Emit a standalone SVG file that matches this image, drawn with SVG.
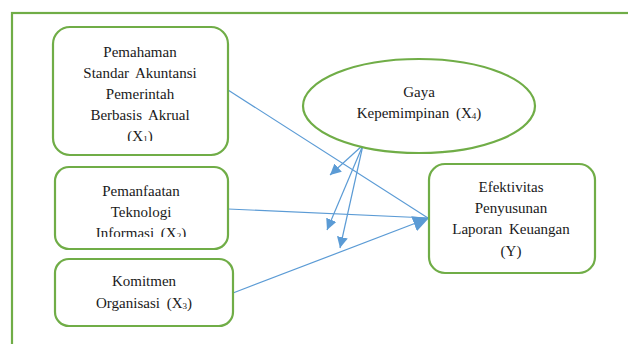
<svg xmlns="http://www.w3.org/2000/svg" width="628" height="344" viewBox="0 0 628 344">
<style>
.n{fill:#fff;stroke:#70AD47;stroke-width:2.2}
.t{font-family:"Liberation Serif","Times New Roman",serif;font-size:15px;fill:#1a1a1a;text-anchor:middle;word-spacing:3px}
.s{font-size:9px}
.c{stroke:#5B9BD5;stroke-width:1.2;fill:none}
</style>
<defs>
<marker id="a" viewBox="0 0 10 10" refX="10" refY="5" markerWidth="11" markerHeight="11" markerUnits="userSpaceOnUse" orient="auto"><path d="M0,0L10,5L0,10z" fill="#5B9BD5"/></marker>
<marker id="b" viewBox="0 0 10 10" refX="10" refY="5" markerWidth="16" markerHeight="16" markerUnits="userSpaceOnUse" orient="auto"><path d="M0,0L10,5L0,10z" fill="#5B9BD5"/></marker>
<clipPath id="k1"><rect x="53" y="27" width="176" height="114"/></clipPath>
<clipPath id="k2"><rect x="55" y="167" width="174" height="70"/></clipPath>
</defs>
<rect x="12" y="13" width="630" height="345" fill="none" stroke="#70AD47" stroke-width="2.2"/>
<g id="connectors">
<line class="c" x1="228" y1="90" x2="428" y2="218"/>
<line class="c" x1="228" y1="209" x2="428" y2="218"/>
<line class="c" x1="233" y1="293" x2="429" y2="218" marker-end="url(#b)"/>
<line class="c" x1="363" y1="145" x2="330" y2="175" marker-end="url(#a)"/>
<line class="c" x1="363" y1="145" x2="327" y2="230" marker-end="url(#a)"/>
<line class="c" x1="363" y1="145" x2="340" y2="248" marker-end="url(#a)"/>
</g>
<g id="x1">
<rect class="n" x="53" y="27" width="175" height="128" rx="17"/>
<g clip-path="url(#k1)">
<text class="t" x="140" y="57">Pemahaman</text>
<text class="t" x="140" y="78">Standar Akuntansi</text>
<text class="t" x="140" y="99">Pemerintah</text>
<text class="t" x="140" y="120">Berbasis Akrual</text>
<text class="t" x="140" y="141">(X<tspan class="s" dy="1">1</tspan><tspan dy="-1">)</tspan></text>
</g>
</g>
<g id="x2">
<rect class="n" x="55" y="167" width="173" height="82" rx="14"/>
<g clip-path="url(#k2)">
<text class="t" x="141" y="196">Pemanfaatan</text>
<text class="t" x="141" y="217">Teknologi</text>
<text class="t" x="141" y="238">Informasi (X<tspan class="s" dy="1">2</tspan><tspan dy="-1">)</tspan></text>
</g>
</g>
<g id="x3">
<rect class="n" x="55" y="259" width="178" height="67" rx="14"/>
<text class="t" x="144" y="286">Komitmen</text>
<text class="t" x="144" y="308">Organisasi (X<tspan class="s" dy="1">3</tspan><tspan dy="-1">)</tspan></text>
</g>
<g id="x4">
<ellipse class="n" cx="419" cy="106" rx="116" ry="47"/>
<text class="t" x="419" y="97">Gaya</text>
<text class="t" x="419" y="118">Kepemimpinan (X<tspan class="s" dy="1">4</tspan><tspan dy="-1">)</tspan></text>
</g>
<g id="y">
<rect class="n" x="429" y="164" width="166" height="109" rx="16"/>
<text class="t" x="511" y="192">Efektivitas</text>
<text class="t" x="511" y="213">Penyusunan</text>
<text class="t" x="511" y="234">Laporan Keuangan</text>
<text class="t" x="511" y="256">(Y)</text>
</g>
</svg>
